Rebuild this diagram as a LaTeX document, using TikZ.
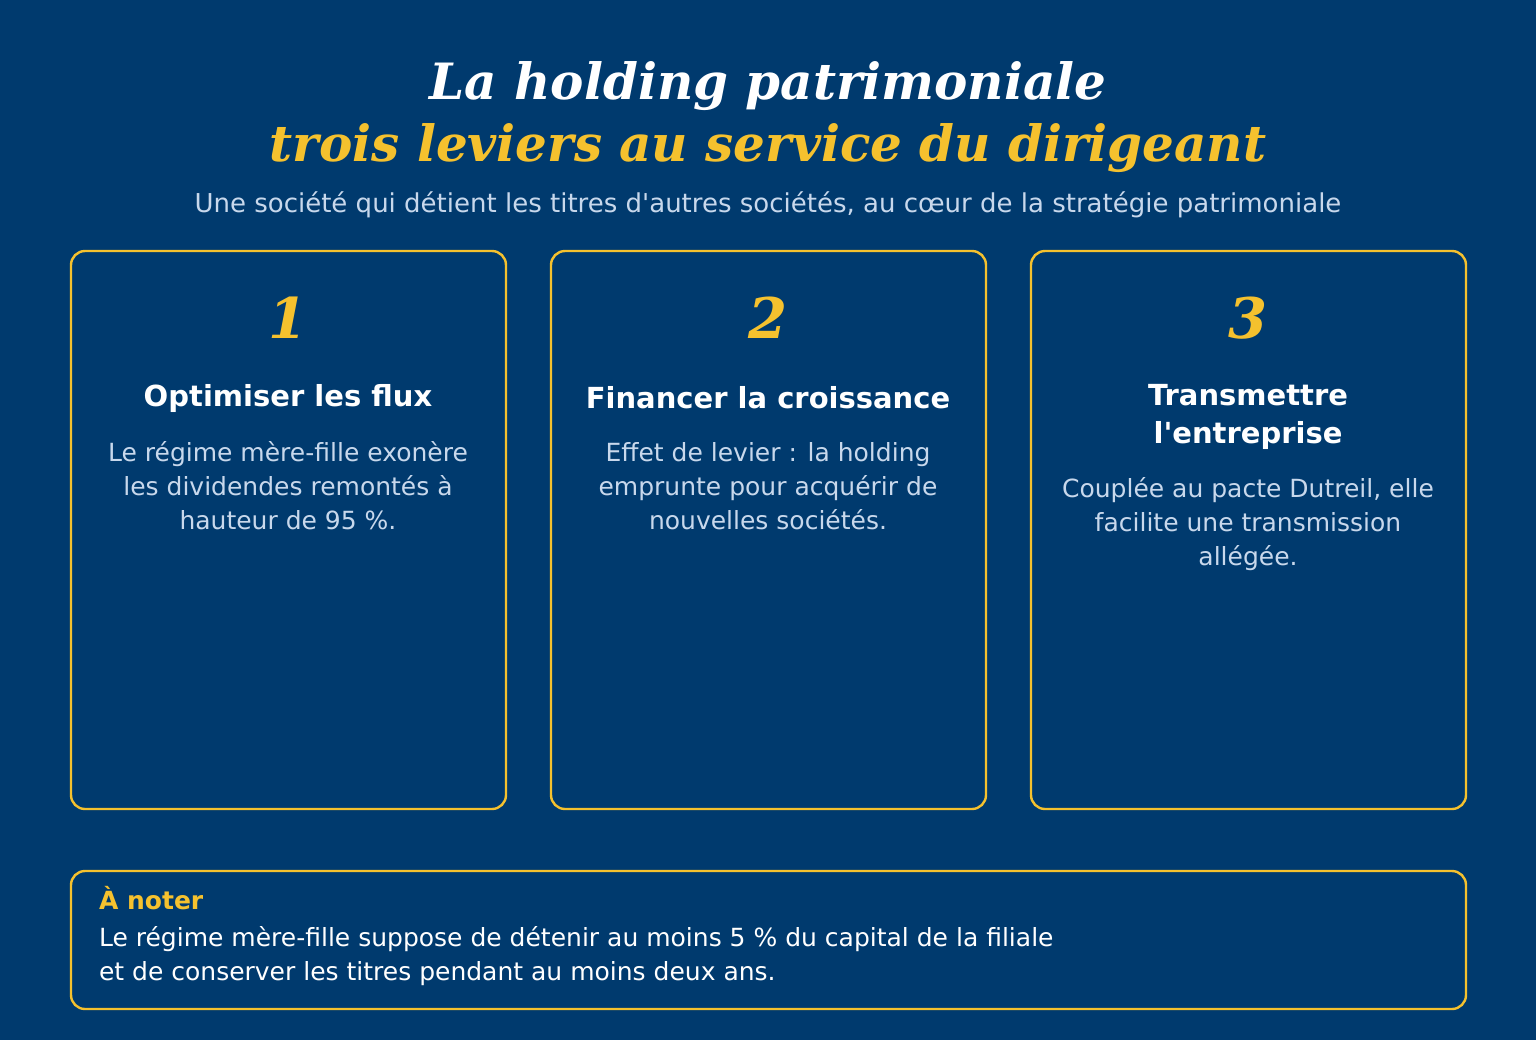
\documentclass[tikz,border=0pt]{standalone}
\usepackage{fontspec}
\setmainfont{DejaVu Sans}
\newfontfamily\titlefont{DejaVu Serif}
\usetikzlibrary{positioning}
\definecolor{navy}{HTML}{003A6E}
\definecolor{gold}{HTML}{F5C12E}
\definecolor{pale}{HTML}{C8D8EC}
\begin{document}
\begin{tikzpicture}[x=0.5pt,y=-0.5pt]
    \tikzset{card/.style={draw=gold,line width=1.2pt,rounded corners=7pt},
      num/.style={text=gold,font=\titlefont\bfseries\itshape\fontsize{28}{30}\selectfont},
      head/.style={text=white,font=\bfseries\fontsize{14.5}{19}\selectfont,align=center},
      body/.style={text=pale,font=\fontsize{12.5}{17}\selectfont,align=center}}
    \fill[navy] (0,0) rectangle (1536,1040);
    \useasboundingbox (0,0) rectangle (1536,1040);

    \node[text=white,font=\titlefont\bfseries\itshape\fontsize{25}{30}\selectfont] (title) at (768,86) {La holding patrimoniale};
    \node[text=gold,font=\titlefont\bfseries\itshape\fontsize{25}{30}\selectfont] (subtitle) at (768,148) {trois leviers au service du dirigeant};
    \node[text=pale,font=\fontsize{13}{14}\selectfont] (intro) at (768,205) {Une société qui détient les titres d\textquotesingle autres sociétés, au cœur de la stratégie patrimoniale};

    \draw[card] (71,251) rectangle (506,809);
    \draw[card] (551,251) rectangle (986,809);
    \draw[card] (1031,251) rectangle (1466,809);

    \node[num] (n1) at (288,318) {1};
    \node[num] (n2) at (768,318) {2};
    \node[num] (n3) at (1248,318) {3};

    \node[head] (h1) at (288,398) {Optimiser les flux};
    \node[head] (h2) at (768,398) {Financer la croissance};
    \node[head] (h3) at (1248,417) {Transmettre\\l\textquotesingle entreprise};

    \node[body] (b1) at (288,486) {Le régime mère-fille exonère\\les dividendes remontés à\\hauteur de 95 \%.};
    \node[body] (b2) at (768,486) {Effet de levier : la holding\\emprunte pour acquérir de\\nouvelles sociétés.};
    \node[body] (b3) at (1248,524) {Couplée au pacte Dutreil, elle\\facilite une transmission\\allégée.};

    \draw[card] (71,871) rectangle (1466,1009);
    \node[text=gold,font=\bfseries\fontsize{12.5}{14}\selectfont,anchor=west] (notetitle) at (92,898) {À noter};
    \node[text=white,font=\fontsize{12.5}{17}\selectfont,anchor=west,align=left] (notetext) at (92,956) {Le régime mère-fille suppose de détenir au moins 5 \% du capital de la filiale\\et de conserver les titres pendant au moins deux ans.};
\end{tikzpicture}
\end{document}
